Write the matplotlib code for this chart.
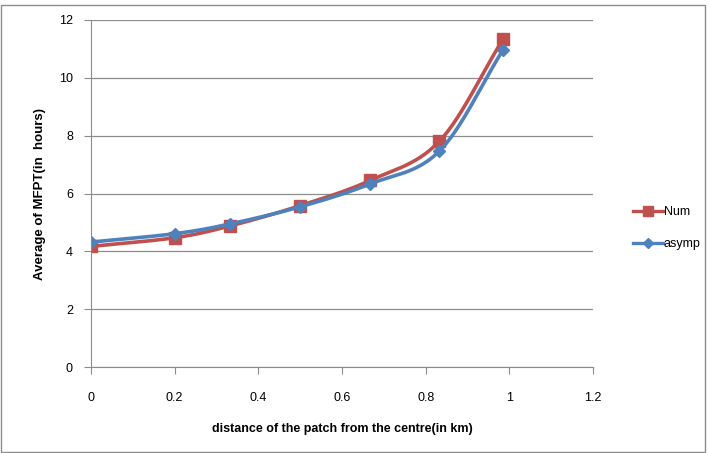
import numpy as np
import matplotlib
matplotlib.use("Agg")
import matplotlib.pyplot as plt
from matplotlib.patches import Rectangle
from matplotlib.lines import Line2D

plt.rcParams['font.family'] = ['Liberation Sans', 'DejaVu Sans']

distance = [0.0, 0.2, 0.333, 0.5, 0.667, 0.833, 0.985]
num = [4.17, 4.47, 4.88, 5.58, 6.45, 7.81, 11.34]
asymp = [4.32, 4.61, 4.95, 5.54, 6.33, 7.47, 10.97]
x_ticks = [0, 0.2, 0.4, 0.6, 0.8, 1, 1.2]
x_tick_labels = ['0', '0.2', '0.4', '0.6', '0.8', '1', '1.2']
y_ticks = [0, 2, 4, 6, 8, 10, 12]


def smooth(x, y, n=30):
    # Catmull-Rom curve through the points, like a spreadsheet "smoothed line"
    x = np.asarray(x, float)
    y = np.asarray(y, float)
    px = np.concatenate([[2 * x[0] - x[1]], x, [2 * x[-1] - x[-2]]])
    py = np.concatenate([[2 * y[0] - y[1]], y, [2 * y[-1] - y[-2]]])
    xs, ys = [], []
    t = np.linspace(0, 1, n)
    for i in range(1, len(px) - 2):
        for arr, out in ((px, xs), (py, ys)):
            p0, p1, p2, p3 = arr[i - 1], arr[i], arr[i + 1], arr[i + 2]
            m1 = (p2 - p0) / 2
            m2 = (p3 - p1) / 2
            h00 = 2 * t**3 - 3 * t**2 + 1
            h10 = t**3 - 2 * t**2 + t
            h01 = -2 * t**3 + 3 * t**2
            h11 = t**3 - t**2
            out.extend(h00 * p1 + h10 * m1 + h01 * p2 + h11 * m2)
    return np.array(xs), np.array(ys)


W, H = 709, 453
fig = plt.figure(figsize=(W / 100, H / 100), dpi=100)
left, right, top, bottom = 91, 593, 20, 367
ax = fig.add_axes([left / W, 1 - bottom / H, (right - left) / W, (bottom - top) / H])

red = '#C0504D'
blue = '#4F81BD'
grey = '#8C8C8C'

sx, sy = smooth(distance, num)
ax.plot(sx, sy, color=red, lw=2.6, solid_capstyle='round')
ax.plot(distance, num, ls='none', marker='s', ms=8, color=red)
bx, by = smooth(distance, asymp)
ax.plot(bx, by, color=blue, lw=2.6, solid_capstyle='round')
ax.plot(distance, asymp, ls='none', marker='D', ms=6.5, color=blue)

ax.set_xlim(0, 1.2)
ax.set_ylim(0, 12)
ax.set_xticks(x_ticks)
ax.set_xticklabels(x_tick_labels)
ax.set_yticks(y_ticks)
ax.grid(axis='y', color=grey, lw=0.9)
ax.set_axisbelow(True)
for s in ['top', 'right']:
    ax.spines[s].set_visible(False)
for s in ['left', 'bottom']:
    ax.spines[s].set_color(grey)
ax.tick_params(axis='x', length=5, color=grey, labelsize=9, pad=13)
ax.tick_params(axis='y', length=5, color=grey, labelsize=9, pad=8)

ax.set_xlabel('distance of the patch from the centre(in km)', fontsize=9,
              fontweight='bold', labelpad=14)
ax.set_ylabel('Average of MFPT(in  hours)', fontsize=9.5, fontweight='bold', labelpad=9)

handles = [Line2D([], [], color=red, lw=2.4, marker='s', ms=7),
           Line2D([], [], color=blue, lw=2.4, marker='D', ms=5.5)]
fig.legend(handles, ['Num', 'asymp'], loc='center left',
           bbox_to_anchor=(622 / W, 1 - 228 / H), frameon=False,
           fontsize=9, handlelength=2.4, handletextpad=0.05, labelspacing=1.6)

fig.patches.append(Rectangle((1 / W, 1 / H), 704 / W, 447 / H,
                             transform=fig.transFigure, fill=False,
                             edgecolor=grey, lw=1))

fig.savefig('out.png', dpi=100)
